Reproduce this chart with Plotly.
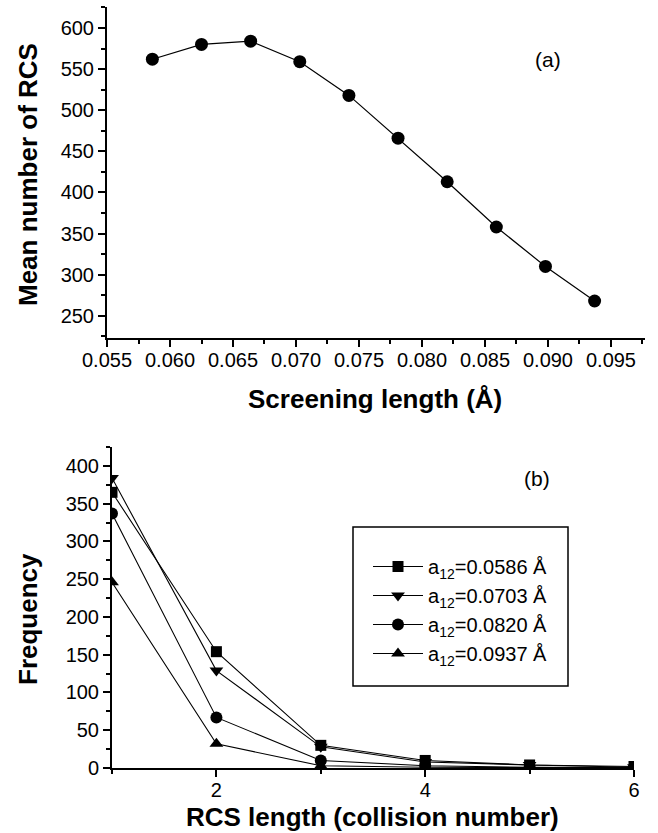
import plotly.graph_objects as go

# ---------------- data ----------------
# Panel (a)
screening_length = [0.0586, 0.0625, 0.0664, 0.0703, 0.0742, 0.0781, 0.0820, 0.0859, 0.0898, 0.0937]
mean_rcs = [562, 580, 584, 559, 518, 466, 413, 358, 310, 268]

# Panel (b)
rcs_length = [1, 2, 3, 4, 5, 6]
freq_a0586 = [365, 154, 30, 10, 4, 2]
freq_a0703 = [384, 129, 28, 8, 4, 1]
freq_a0820 = [337, 67, 10, 3, 1, 0.5]
freq_a0937 = [246, 32, 3, 1, 0.5, 0.2]

series_names = ["a<sub>12</sub>=0.0586 Å", "a<sub>12</sub>=0.0703 Å",
                "a<sub>12</sub>=0.0820 Å", "a<sub>12</sub>=0.0937 Å"]
series_values = [freq_a0586, freq_a0703, freq_a0820, freq_a0937]
series_symbols = ["square", "triangle-down", "circle", "triangle-up"]
series_sizes = [11, 12, 12, 12]

FONT = "Liberation Sans, Arial, sans-serif"
W, H = 658, 833

fig = go.Figure()

fig.add_trace(go.Scatter(
    x=screening_length, y=mean_rcs, mode="lines+markers",
    marker=dict(symbol="circle", size=13, color="black"),
    line=dict(color="black", width=1.2),
    showlegend=False, xaxis="x", yaxis="y"))

for name, vals, sym, sz in zip(series_names, series_values, series_symbols, series_sizes):
    fig.add_trace(go.Scatter(
        x=rcs_length, y=vals, mode="lines+markers", name=name,
        marker=dict(symbol=sym, size=sz, color="black"),
        line=dict(color="black", width=1.1),
        xaxis="x2", yaxis="y2"))

axis_common = dict(
    automargin=False,
    showline=True, linewidth=2, linecolor="black", mirror=False,
    ticks="outside", ticklen=7, tickwidth=2, tickcolor="black",
    showgrid=False, zeroline=False,
    tickfont=dict(family=FONT, size=20, color="black"),
)

fig.update_layout(
    template="none",
    width=W, height=H, autosize=False,
    margin=dict(l=0, r=0, t=0, b=0, pad=0, autoexpand=False),
    paper_bgcolor="white", plot_bgcolor="white",
    font=dict(family=FONT, color="black"),
    xaxis=dict(domain=[107 / W, 645 / W], anchor="y", range=[0.055, 0.0977],
               tick0=0.055, dtick=0.005, tickformat=".3f", ticklabelstandoff=-4,
               minor=dict(dtick=0.0025, tick0=0.055, ticks="outside", ticklen=4,
                          tickwidth=1.5, tickcolor="black"),
               **axis_common),
    yaxis=dict(domain=[1 - 338 / H, 1 - 7 / H], anchor="x", range=[223, 625.5],
               tick0=0, dtick=50,
               minor=dict(dtick=25, tick0=0, ticks="outside", ticklen=4,
                          tickwidth=1.5, tickcolor="black"),
               **axis_common),
    xaxis2=dict(domain=[112 / W, 634 / W], anchor="y2", range=[1, 6],
                tick0=0, dtick=2, ticklabelstandoff=-4,
                minor=dict(dtick=1, tick0=0, ticks="outside", ticklen=4,
                           tickwidth=1.5, tickcolor="black"),
                **axis_common),
    yaxis2=dict(domain=[1 - 768 / H, 1 - 447 / H], anchor="x2", range=[0, 425],
                tick0=0, dtick=50,
                minor=dict(dtick=25, tick0=0, ticks="outside", ticklen=4,
                           tickwidth=1.5, tickcolor="black"),
                **axis_common),
    legend=dict(x=368 / W, y=1 - 547 / H, xanchor="left", yanchor="top",
                bgcolor="rgba(0,0,0,0)", borderwidth=0,
                font=dict(family=FONT, size=20, color="black"),
                itemwidth=50, tracegroupgap=0),
    showlegend=True,
)

# legend frame
fig.add_shape(type="rect", xref="paper", yref="paper",
              x0=353 / W, x1=568 / W, y0=1 - 686 / H, y1=1 - 527 / H,
              line=dict(color="black", width=1.5), fillcolor="rgba(0,0,0,0)")

def ann(text, x, y, size, bold=False, angle=0):
    fig.add_annotation(text=text, x=x / W, y=1 - y / H, xref="paper", yref="paper",
                       showarrow=False, xanchor="center", yanchor="middle",
                       textangle=angle,
                       font=dict(family=FONT, size=size, color="black",
                                 weight="bold" if bold else "normal"))

ann("(a)", 548, 60, 21)
ann("(b)", 537, 478, 21)
ann("Screening length (Å)", 375, 399, 26, bold=True)
ann("Mean number of RCS", 28, 175, 26, bold=True, angle=-90)
ann("RCS length (collision number)", 373, 817, 26, bold=True)
ann("Frequency", 28, 619, 26, bold=True, angle=-90)

fig.write_html("out.html")
